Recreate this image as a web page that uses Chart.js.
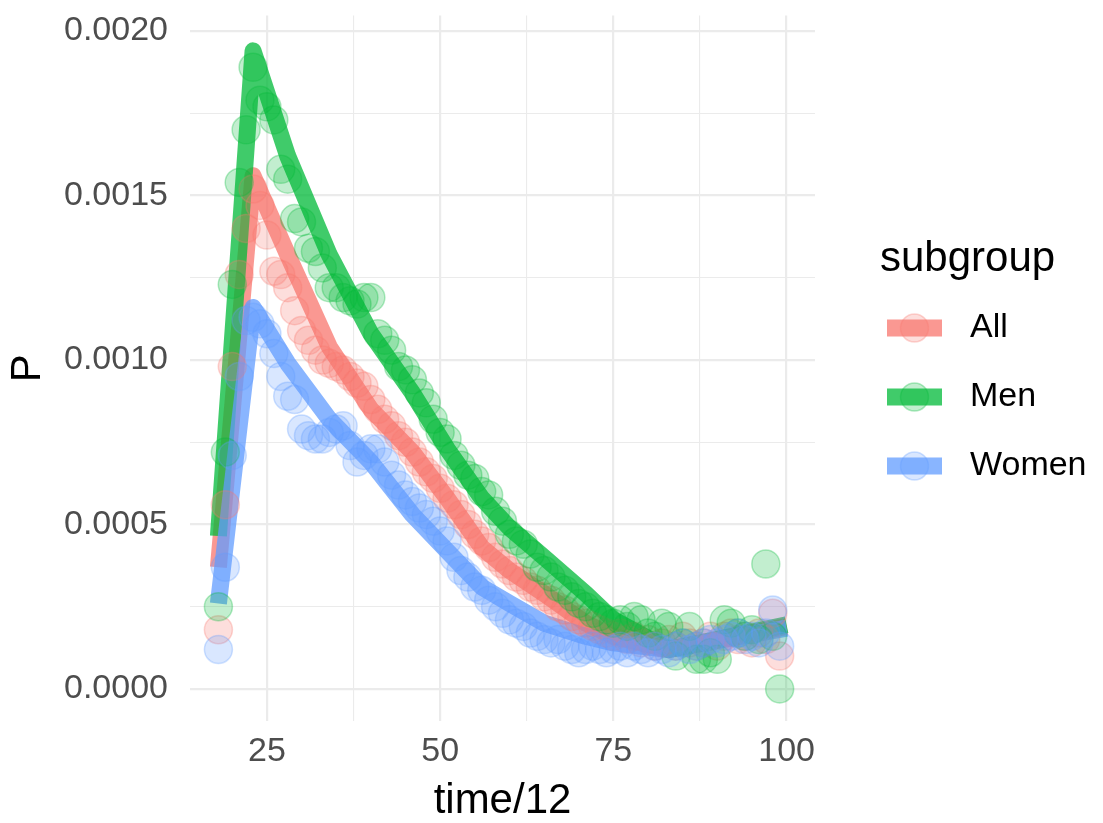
<!DOCTYPE html>
<html>
<head>
<meta charset="utf-8">
<script src="https://cdn.jsdelivr.net/npm/chart.js@4.4.1/dist/chart.umd.min.js"></script>
<style>
html,body{margin:0;padding:0;background:#ffffff;}
#wrap{width:1103px;height:823px;position:relative;}
</style>
</head>
<body>
<div id="wrap"><canvas id="c"></canvas></div>
<script>
// ---------- data ----------
const subgroups = ['All', 'Men', 'Women'];
const legendTitle = 'subgroup';
const xTitle = 'time/12';
const yTitle = 'P';
const seriesColors = ['#F8766D', '#00BA38', '#619CFF'];

const pointX = [18,19,20,21,22,23,24,25,26,27,28,29,30,31,32,33,34,35,36,37,38,39,40,41,42,43,44,45,46,47,48,49,50,51,52,53,54,55,56,57,58,59,60,61,62,63,64,65,66,67,68,69,70,71,72,73,74,75,76,77,78,79,80,81,82,83,84,85,86,87,88,89,90,91,92,93,94,95,96,97,98,99];

const pointsAll = [0.00018,0.00056,0.00098,0.00126,0.00140,0.00152,0.00147,0.00138,0.00127,0.00126,0.00122,0.00115,0.00109,0.00106,0.00103,0.00100,0.00099,0.00098,0.00097,0.00095,0.00093,0.00092,0.00088,0.00085,0.00082,0.00080,0.00077,0.00075,0.00072,0.00069,0.00066,0.00064,0.00061,0.00058,0.00056,0.00053,0.00050,0.00047,0.00045,0.00043,0.00040,0.00038,0.00036,0.00034,0.00033,0.00031,0.00030,0.00028,0.00027,0.00025,0.00024,0.00022,0.00021,0.00020,0.00019,0.00018,0.00017,0.00016,0.00017,0.00015,0.00016,0.00014,0.00015,0.00013,0.00014,0.00015,0.00013,0.00016,0.00014,0.00013,0.00014,0.00016,0.00013,0.00016,0.00017,0.00015,0.00016,0.00014,0.00017,0.00015,0.00023,0.00010];

const pointsMen = [0.00025,0.00072,0.00123,0.00154,0.00170,0.00189,0.00179,0.00177,0.00173,0.00158,0.00155,0.00143,0.00142,0.00134,0.00133,0.00128,0.00122,0.00122,0.00119,0.00118,0.00117,0.00119,0.00119,0.00108,0.00106,0.00103,0.00098,0.00097,0.00094,0.00090,0.00087,0.00082,0.00078,0.00076,0.00071,0.00068,0.00065,0.00064,0.00060,0.00059,0.00054,0.00051,0.00047,0.00045,0.00044,0.00041,0.00037,0.00036,0.00034,0.00031,0.00030,0.00028,0.00026,0.00025,0.00023,0.00022,0.00021,0.00020,0.00021,0.00019,0.00022,0.00021,0.00017,0.00016,0.00020,0.00019,0.00010,0.00014,0.00019,0.00009,0.00009,0.00011,0.00009,0.00021,0.00020,0.00017,0.00016,0.00018,0.00015,0.00038,0.00016,0.00000];

const pointsWomen = [0.00012,0.00037,0.00071,0.00095,0.00112,0.00113,0.00111,0.00108,0.00102,0.00095,0.00089,0.00088,0.00079,0.00077,0.00076,0.00076,0.00078,0.00079,0.00080,0.00074,0.00069,0.00071,0.00073,0.00073,0.00069,0.00065,0.00062,0.00059,0.00057,0.00055,0.00053,0.00051,0.00048,0.00045,0.00040,0.00036,0.00034,0.00031,0.00030,0.00027,0.00025,0.00023,0.00021,0.00020,0.00019,0.00017,0.00016,0.00015,0.00014,0.00015,0.00013,0.00012,0.00011,0.00012,0.00013,0.00012,0.00011,0.00012,0.00013,0.00011,0.00013,0.00012,0.00011,0.00013,0.00012,0.00011,0.00013,0.00014,0.00012,0.00013,0.00014,0.00015,0.00014,0.00015,0.00016,0.00017,0.00015,0.00016,0.00014,0.00017,0.00024,0.00013];

const lineX = [18, 23, 28, 34, 40, 46, 51, 56, 60, 65, 71, 75, 83, 100];
const lineAll   = [0.00037, 0.00156, 0.00132, 0.00104, 0.00085, 0.00072, 0.00058, 0.00043, 0.00036, 0.00029, 0.00020, 0.00016, 0.00012, 0.00019];
const lineMen   = [0.000465, 0.00194, 0.00162, 0.00132, 0.00108, 0.00090, 0.00073, 0.00058, 0.00049, 0.00040, 0.00029, 0.00021, 0.00012, 0.000195];
const lineWomen = [0.00026, 0.00116, 0.00099, 0.00082, 0.00069, 0.00053, 0.00042, 0.00031, 0.00026, 0.00020, 0.00016, 0.00014, 0.00012, 0.000185];

const xMajorTicks = [25, 50, 75, 100];
const xMinorTicks = [37.5, 62.5, 87.5];
const yMajorTicks = [0, 0.0005, 0.001, 0.0015, 0.002];
const yMinorTicks = [0.00025, 0.00075, 0.00125, 0.00175];

// ---------- helpers ----------
function rgba(hex, a) {
  const n = parseInt(hex.slice(1), 16);
  return 'rgba(' + ((n >> 16) & 255) + ',' + ((n >> 8) & 255) + ',' + (n & 255) + ',' + a + ')';
}
function isIn(list, v) { return list.some(t => Math.abs(t - v) < 1e-9); }
const FONT = '"Liberation Sans", Arial, Helvetica, sans-serif';
Chart.defaults.font.family = FONT;

const pointSets = [pointsAll, pointsMen, pointsWomen];
const lineSets = [lineAll, lineMen, lineWomen];

const datasets = [];
// points (drawn on top: lower order => drawn later)
subgroups.forEach((name, i) => {
  datasets.push({
    label: name + ' points',
    data: pointX.map((x, k) => ({x: x, y: pointSets[i][k]})),
    showLine: false,
    pointRadius: 14,
    pointBackgroundColor: rgba(seriesColors[i], 0.24),
    pointBorderColor: rgba(seriesColors[i], 0.3),
    pointBorderWidth: 1.5,
    order: 2 - i,
    clip: false
  });
});
// lines
subgroups.forEach((name, i) => {
  datasets.push({
    label: name,
    data: lineX.map((x, k) => ({x: x, y: lineSets[i][k]})),
    showLine: true,
    pointRadius: 0,
    borderColor: rgba(seriesColors[i], 0.75),
    borderWidth: 17,
    borderCapStyle: 'butt',
    borderJoinStyle: 'round',
    tension: 0,
    order: 5 - i,
    clip: false
  });
});

const legendPlugin = {
  id: 'ggLegend',
  afterDraw(chart) {
    const ctx = chart.ctx;
    ctx.save();
    ctx.textAlign = 'left';
    ctx.fillStyle = '#000000';
    ctx.font = '42px ' + FONT;
    ctx.textBaseline = 'alphabetic';
    ctx.fillText(legendTitle, 880, 271);
    subgroups.forEach((name, i) => {
      const cy = 328 + i * 69;
      ctx.fillStyle = rgba(seriesColors[i], 0.75);
      ctx.fillRect(887, cy - 8.5, 55, 17);
      ctx.beginPath();
      ctx.arc(914.5, cy, 14, 0, Math.PI * 2);
      ctx.fillStyle = rgba(seriesColors[i], 0.24);
      ctx.fill();
      ctx.lineWidth = 1.5;
      ctx.strokeStyle = rgba(seriesColors[i], 0.3);
      ctx.stroke();
      ctx.fillStyle = '#000000';
      ctx.font = '34px ' + FONT;
      ctx.textBaseline = 'middle';
      ctx.fillText(name, 970, cy);
    });
    ctx.restore();
  }
};

new Chart(document.getElementById('c'), {
  type: 'scatter',
  data: {datasets: datasets},
  plugins: [legendPlugin],
  options: {
    responsive: true,
    maintainAspectRatio: false,
    animation: false,
    events: [],
    layout: {padding: {left: 0, right: 288, top: 11, bottom: 0}},
    plugins: {legend: {display: false}, tooltip: {enabled: false}},
    scales: {
      x: {
        type: 'linear',
        min: 13.9,
        max: 104.1,
        afterBuildTicks: s => { s.ticks = xMajorTicks.concat(xMinorTicks).sort((a, b) => a - b).map(v => ({value: v})); },
        afterFit: s => { s.height = 102; s.paddingLeft = 0; s.paddingRight = 0; },
        border: {display: false},
        grid: {
          color: '#EBEBEB',
          drawTicks: false,
          lineWidth: c => (c.tick && isIn(xMajorTicks, c.tick.value)) ? 2.2 : 1.1
        },
        ticks: {
          autoSkip: false,
          maxRotation: 0,
          padding: 10,
          color: '#4D4D4D',
          font: {size: 34},
          callback: v => isIn(xMajorTicks, v) ? String(v) : ''
        },
        title: {display: true, text: xTitle, color: '#000000', font: {size: 42, lineHeight: 1}, padding: {top: 0, bottom: 1}}
      },
      y: {
        type: 'linear',
        min: -0.0000975,
        max: 0.0020475,
        afterBuildTicks: s => { s.ticks = yMajorTicks.concat(yMinorTicks).sort((a, b) => a - b).map(v => ({value: v})); },
        afterFit: s => { s.width = 190; s.paddingTop = 0; s.paddingBottom = 0; },
        border: {display: false},
        grid: {
          color: '#EBEBEB',
          drawTicks: false,
          lineWidth: c => (c.tick && isIn(yMajorTicks, c.tick.value)) ? 2.2 : 1.1
        },
        ticks: {
          autoSkip: false,
          padding: 22,
          color: '#4D4D4D',
          font: {size: 34},
          callback: v => isIn(yMajorTicks, v) ? v.toFixed(4) : ''
        },
        title: {display: true, text: yTitle, color: '#000000', font: {size: 42, lineHeight: 1}, padding: {top: 7, bottom: 0}}
      }
    }
  }
});
</script>
</body>
</html>
